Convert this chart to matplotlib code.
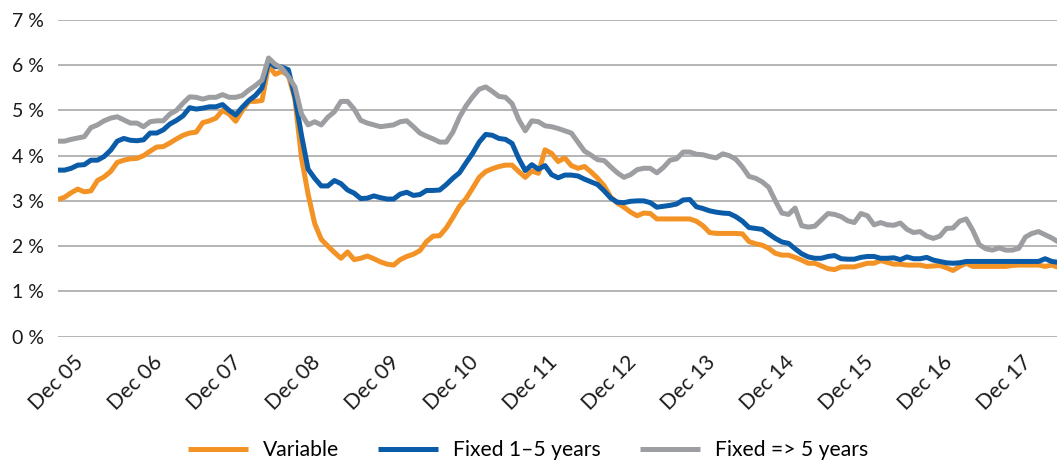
import matplotlib
matplotlib.use("Agg")
import matplotlib.pyplot as plt
from matplotlib.transforms import ScaledTranslation
import numpy as np

plt.rcParams['font.family'] = ['Lato', 'DejaVu Sans']

tick_labels = ["Dec 05", "Dec 06", "Dec 07", "Dec 08", "Dec 09", "Dec 10", "Dec 11",
               "Dec 12", "Dec 13", "Dec 14", "Dec 15", "Dec 16", "Dec 17"]
tick_month_index = [3, 15, 27, 39, 51, 63, 75, 87, 99, 111, 123, 135, 147]
y_ticks = [0, 1, 2, 3, 4, 5, 6, 7]

series_names = ["Variable", "Fixed 1\u20135 years", "Fixed => 5 years"]

variable = [
    3.03, 3.08, 3.18, 3.26, 3.20, 3.22, 3.45, 3.53, 3.65, 3.85,
    3.90, 3.93, 3.94, 4.00, 4.10, 4.19, 4.20, 4.28, 4.37, 4.45,
    4.50, 4.52, 4.73, 4.77, 4.83, 5.00, 4.92, 4.76, 5.00, 5.20,
    5.20, 5.22, 6.00, 5.80, 5.86, 5.78, 5.25, 3.95, 3.15, 2.50,
    2.15, 2.00, 1.86, 1.73, 1.87, 1.70, 1.73, 1.78, 1.72, 1.65,
    1.60, 1.58, 1.70, 1.77, 1.82, 1.90, 2.10, 2.22, 2.23, 2.40,
    2.63, 2.88, 3.05, 3.28, 3.52, 3.65, 3.71, 3.76, 3.79, 3.79,
    3.65, 3.52, 3.66, 3.61, 4.13, 4.05, 3.87, 3.95, 3.78, 3.72,
    3.76, 3.64, 3.50, 3.33, 3.08, 2.95, 2.86, 2.75, 2.67, 2.73,
    2.72, 2.60, 2.60, 2.60, 2.60, 2.60, 2.60, 2.55, 2.45, 2.30,
    2.28, 2.28, 2.28, 2.28, 2.27, 2.10, 2.05, 2.02, 1.95, 1.84,
    1.80, 1.80, 1.75, 1.69, 1.62, 1.62, 1.56, 1.50, 1.48, 1.54,
    1.54, 1.54, 1.58, 1.62, 1.62, 1.68, 1.64, 1.60, 1.60, 1.58,
    1.58, 1.58, 1.55, 1.56, 1.57, 1.52, 1.46, 1.55, 1.62, 1.55,
    1.55, 1.55, 1.55, 1.55, 1.55, 1.57, 1.58, 1.58, 1.58, 1.58,
    1.55, 1.58, 1.53]

fixed_1_5 = [
    3.68, 3.68, 3.72, 3.79, 3.80, 3.90, 3.90, 3.98, 4.12, 4.32,
    4.38, 4.34, 4.33, 4.35, 4.50, 4.50, 4.57, 4.70, 4.78, 4.88,
    5.06, 5.03, 5.05, 5.08, 5.08, 5.13, 5.00, 4.90, 5.07, 5.22,
    5.33, 5.50, 6.07, 5.97, 5.96, 5.90, 5.30, 4.45, 3.70, 3.50,
    3.33, 3.33, 3.45, 3.38, 3.24, 3.17, 3.05, 3.06, 3.11, 3.07,
    3.04, 3.04, 3.15, 3.19, 3.12, 3.14, 3.23, 3.23, 3.24, 3.36,
    3.50, 3.62, 3.84, 4.05, 4.30, 4.47, 4.45, 4.38, 4.36, 4.27,
    3.94, 3.67, 3.80, 3.70, 3.78, 3.58, 3.51, 3.57, 3.57, 3.55,
    3.48, 3.42, 3.36, 3.22, 3.06, 2.97, 2.96, 2.99, 3.00, 3.00,
    2.96, 2.86, 2.88, 2.90, 2.93, 3.02, 3.03, 2.87, 2.83, 2.78,
    2.75, 2.73, 2.72, 2.65, 2.55, 2.41, 2.39, 2.37, 2.27, 2.17,
    2.09, 2.06, 1.94, 1.83, 1.76, 1.73, 1.73, 1.77, 1.79, 1.72,
    1.71, 1.71, 1.75, 1.77, 1.77, 1.73, 1.73, 1.74, 1.70, 1.76,
    1.72, 1.72, 1.75, 1.69, 1.66, 1.63, 1.62, 1.63, 1.66, 1.66,
    1.66, 1.66, 1.66, 1.66, 1.66, 1.66, 1.66, 1.66, 1.66, 1.66,
    1.72, 1.66, 1.64]

fixed_over_5 = [
    4.32, 4.32, 4.36, 4.39, 4.42, 4.62, 4.68, 4.77, 4.83, 4.86,
    4.79, 4.72, 4.72, 4.64, 4.75, 4.77, 4.77, 4.92, 5.00, 5.16,
    5.30, 5.29, 5.25, 5.29, 5.29, 5.35, 5.29, 5.29, 5.33, 5.45,
    5.55, 5.67, 6.16, 6.02, 5.94, 5.75, 5.52, 4.92, 4.68, 4.75,
    4.68, 4.85, 4.97, 5.20, 5.20, 5.03, 4.78, 4.72, 4.68, 4.64,
    4.66, 4.68, 4.75, 4.77, 4.64, 4.50, 4.43, 4.37, 4.30, 4.30,
    4.52, 4.85, 5.10, 5.30, 5.47, 5.52, 5.42, 5.31, 5.29, 5.15,
    4.80, 4.55, 4.77, 4.75, 4.66, 4.64, 4.60, 4.55, 4.50, 4.30,
    4.10, 4.01, 3.91, 3.89, 3.75, 3.62, 3.52, 3.58, 3.69, 3.72,
    3.72, 3.62, 3.74, 3.90, 3.93, 4.08, 4.08, 4.03, 4.02, 3.98,
    3.95, 4.04, 4.00, 3.92, 3.75, 3.54, 3.50, 3.42, 3.30, 3.00,
    2.73, 2.70, 2.84, 2.45, 2.42, 2.44, 2.58, 2.72, 2.70, 2.65,
    2.56, 2.52, 2.72, 2.67, 2.47, 2.52, 2.47, 2.46, 2.51, 2.37,
    2.30, 2.32, 2.22, 2.17, 2.22, 2.39, 2.40, 2.55, 2.60, 2.35,
    2.03, 1.94, 1.91, 1.96, 1.91, 1.91, 1.95, 2.20, 2.28, 2.32,
    2.25, 2.18, 2.09]

colors = ["#F39325", "#0B5CA8", "#9D9EA1"]

W, H = 1057, 461
fig = plt.figure(figsize=(W / 100, H / 100), dpi=100)
ax = fig.add_axes([58 / W, 1 - 336.5 / H, 999 / W, 316.5 / H])

x = np.arange(len(variable))
for vals, name, col in zip([variable, fixed_1_5, fixed_over_5], series_names, colors):
    ax.plot(x, vals, color=col, lw=3.6, label=name, solid_joinstyle='round',
            solid_capstyle='butt')

ax.set_xlim(0, 151.8)
ax.set_ylim(0, 7)
ax.set_yticks(y_ticks)
ax.set_yticklabels([f"{v} %" for v in y_ticks], fontsize=14, color="#1a1a1a")
ax.grid(axis='y', color='#A8A8A8', lw=1.2)
ax.set_axisbelow(True)
for s in ax.spines.values():
    s.set_visible(False)
ax.tick_params(axis='both', length=0)
ax.tick_params(axis='y', pad=10)

ax.set_xticks(tick_month_index)
ax.set_xticklabels(tick_labels, rotation=45, ha='right', va='top',
                   rotation_mode='anchor', fontsize=15.2, color="#1a1a1a")
ax.tick_params(axis='x', pad=11)
offset = ScaledTranslation(-4 / 100, 0, fig.dpi_scale_trans)
for lab in ax.get_xticklabels():
    lab.set_transform(lab.get_transform() + offset)

fig.legend(loc='center', bbox_to_anchor=(528 / W, 1 - 450 / H), ncol=3,
           frameon=False, fontsize=15.2, handlelength=2.85, handletextpad=0.7,
           columnspacing=1.85)

fig.savefig("out.png", dpi=100)
